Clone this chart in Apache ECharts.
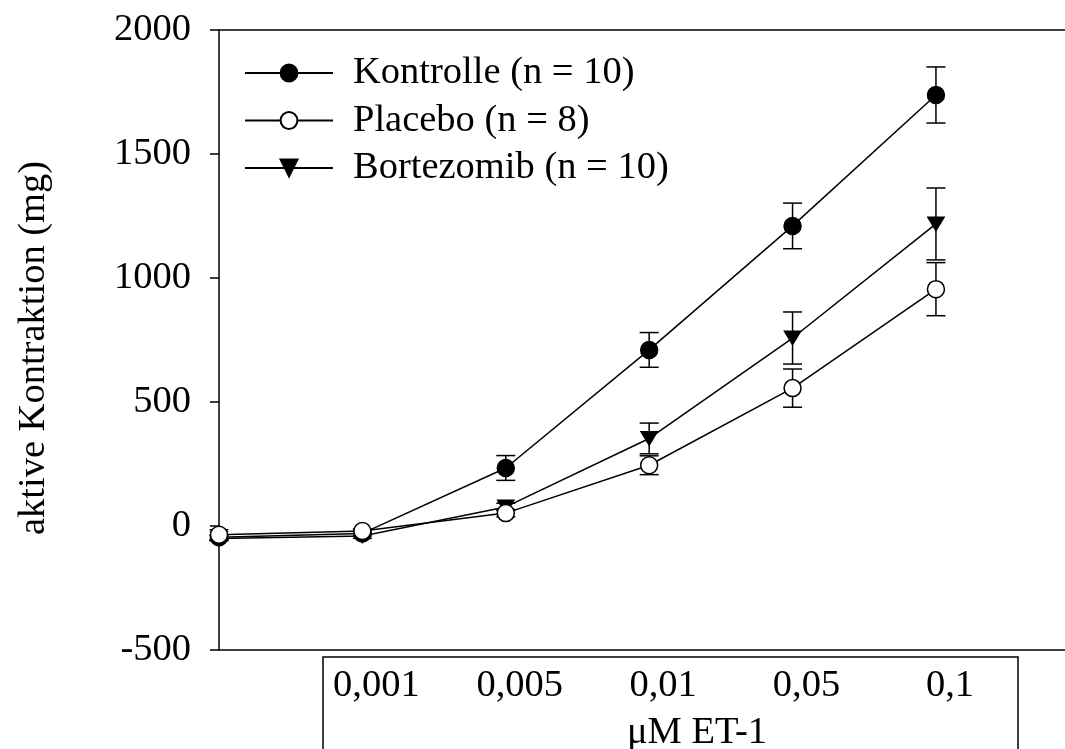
<!DOCTYPE html>
<html>
<head>
<meta charset="utf-8">
<script src="https://cdn.jsdelivr.net/npm/echarts@6/dist/echarts.min.js"></script>
<style>
  html, body { margin: 0; padding: 0; background: #fff; }
  #chart { width: 1065px; height: 749px; }
</style>
</head>
<body>
<div id="chart"></div>
<script>
// Concentration steps (first step is the baseline without ET-1)
const categories = ['', '0,001', '0,005', '0,01', '0,05', '0,1'];

// Mean active contraction (mg) and SEM per group
const kontrolle = [-45, -30, 234, 710, 1210, 1738];
const kontrolleErr = [10, 10, 50, 70, 92, 113];
const placebo = [-35, -20, 52, 245, 556, 955];
const placeboErr = [20, 8, 15, 38, 77, 107];
const bortezomib = [-50, -40, 77, 353, 758, 1218];
const bortezomibErr = [10, 10, 15, 62, 105, 145];

const seriesNames = ['Kontrolle (n = 10)', 'Placebo (n = 8)', 'Bortezomib (n = 10)'];
const yTicks = [-500, 0, 500, 1000, 1500, 2000];

const FONT = 'Liberation Serif';
const FS = 38.5;

function points(vals) {
  return vals.map((v, i) => [i, v]);
}
function errPoints(vals, errs) {
  return vals.map((v, i) => [i, v, errs[i]]);
}

function errorBars(params, api) {
  const x = api.value(0), y = api.value(1), e = api.value(2);
  const hi = api.coord([x, y + e]);
  const lo = api.coord([x, y - e]);
  const w = 9.5;
  const style = { stroke: '#000', lineWidth: 1.5 };
  return {
    type: 'group',
    children: [
      { type: 'line', shape: { x1: hi[0], y1: hi[1], x2: lo[0], y2: lo[1] }, style },
      { type: 'line', shape: { x1: hi[0] - w, y1: hi[1], x2: hi[0] + w, y2: hi[1] }, style },
      { type: 'line', shape: { x1: lo[0] - w, y1: lo[1], x2: lo[0] + w, y2: lo[1] }, style }
    ]
  };
}

const lineStyle = { color: '#000', width: 1.5 };

const chart = echarts.init(document.getElementById('chart'), null, { renderer: 'canvas' });
chart.setOption({
  animation: false,
  backgroundColor: '#fff',
  textStyle: { fontFamily: FONT, color: '#000' },
  grid: { left: 219, top: 30, width: 846, height: 620, containLabel: false, outerBoundsMode: 'none' },
  legend: {
    orient: 'vertical',
    left: 239,
    top: 48,
    itemWidth: 88,
    itemHeight: 21,
    itemGap: 7.5,
    data: seriesNames,
    textStyle: { fontFamily: FONT, fontSize: FS, color: '#000', lineHeight: 40, padding: [0, 0, 0, 15] }
  },
  graphic: [
    {
      type: 'rect',
      shape: { x: 323, y: 657, width: 695, height: 120 },
      style: { fill: 'none', stroke: '#000', lineWidth: 1.5 },
      z: 0
    }
  ],
  xAxis: [
    {
      type: 'value',
      min: 0,
      max: 5.9,
      interval: 1,
      position: 'bottom',
      axisLine: { show: true, onZero: false, lineStyle: { color: '#000', width: 1.5 } },
      axisTick: { show: false },
      splitLine: { show: false },
      axisLabel: {
        fontFamily: FONT,
        fontSize: FS,
        color: '#000',
        margin: 16,
        showMaxLabel: false,
        padding: [0, 0, 0, 28],
        formatter: v => (Number.isInteger(v) ? (categories[v] || '') : '')
      },
      name: 'μM ET-1',
      nameLocation: 'middle',
      nameGap: 63,
      nameTextStyle: { fontFamily: FONT, fontSize: FS, color: '#000', padding: [0, 0, 0, 110] }
    },
    {
      type: 'value',
      min: 0,
      max: 5.9,
      position: 'top',
      axisLine: { show: true, onZero: false, lineStyle: { color: '#000', width: 1.5 } },
      axisTick: { show: false },
      axisLabel: { show: false },
      splitLine: { show: false }
    }
  ],
  yAxis: {
    type: 'value',
    min: yTicks[0],
    max: yTicks[yTicks.length - 1],
    interval: 500,
    axisLine: { show: true, onZero: false, lineStyle: { color: '#000', width: 1.5 } },
    axisTick: { show: true, inside: false, length: 9, lineStyle: { color: '#000', width: 1.5 } },
    splitLine: { show: false },
    axisLabel: { fontFamily: FONT, fontSize: FS, color: '#000', margin: 28, formatter: v => String(v) },
    name: 'aktive Kontraktion (mg)',
    nameLocation: 'middle',
    nameRotate: 90,
    nameGap: 166,
    nameTextStyle: { fontFamily: FONT, fontSize: FS, color: '#000', padding: [0, 16, 0, 0] }
  },
  series: [
    { type: 'custom', renderItem: errorBars, data: errPoints(kontrolle, kontrolleErr), z: 1, silent: true },
    { type: 'custom', renderItem: errorBars, data: errPoints(placebo, placeboErr), z: 1, silent: true },
    { type: 'custom', renderItem: errorBars, data: errPoints(bortezomib, bortezomibErr), z: 1, silent: true },
    {
      name: seriesNames[0], type: 'line', data: points(kontrolle), z: 3,
      symbol: 'circle', symbolSize: 17,
      lineStyle, itemStyle: { color: '#000', borderColor: '#000', borderWidth: 1.5 }
    },
    {
      name: seriesNames[1], type: 'line', data: points(placebo), z: 4,
      symbol: 'circle', symbolSize: 17,
      lineStyle, itemStyle: { color: '#fff', borderColor: '#000', borderWidth: 1.5 }
    },
    {
      name: seriesNames[2], type: 'line', data: points(bortezomib), z: 3,
      symbol: 'triangle', symbolSize: [17, 14], symbolRotate: 180,
      lineStyle, itemStyle: { color: '#000', borderColor: '#000', borderWidth: 1 }
    }
  ]
});
</script>
</body>
</html>
